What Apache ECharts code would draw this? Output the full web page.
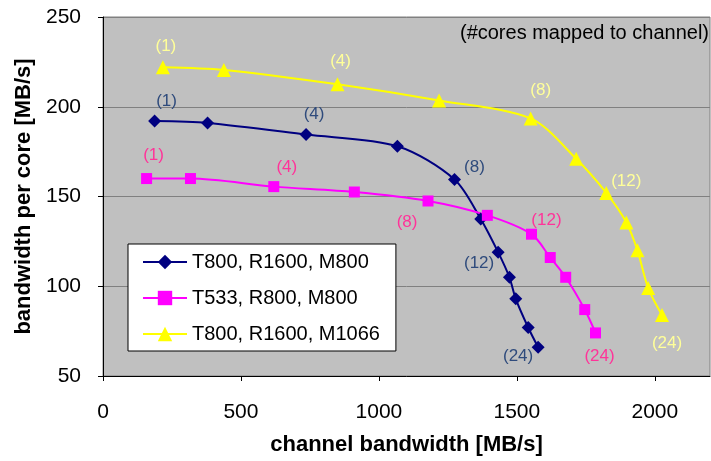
<!DOCTYPE html>
<html>
<head>
<meta charset="utf-8">
<script src="https://cdn.jsdelivr.net/npm/echarts@6/dist/echarts.min.js"></script>
<style>
html,body{margin:0;padding:0;background:#fff;}
#c{width:711px;height:461px;}
</style>
</head>
<body>
<div id="c"></div>
<script>
// ---- data ----
var seriesNames = ['T800, R1600, M800', 'T533, R800, M800', 'T800, R1600, M1066'];
var navyX = [187, 379, 736, 1067, 1274, 1369, 1432, 1473, 1496, 1541, 1577];
var navyY = [192, 191, 184.5, 178, 159.5, 137.5, 119, 105, 93, 77, 66];
var magX = [158, 317, 619, 911, 1178, 1393, 1553, 1621, 1677, 1746, 1785];
var magY = [160, 160, 155.5, 152.5, 147.5, 139.5, 129, 116, 105, 87, 74];
var yelX = [217, 438, 850, 1218, 1550, 1715, 1824, 1897, 1937, 1976, 2026];
var yelY = [222, 220.5, 212.5, 203.5, 193.5, 171, 152, 135.5, 120, 99, 84];
var coreLabels = ['(1)', '', '(4)', '', '(8)', '', '(12)', '', '', '', '(24)'];
var xTicks = [0, 500, 1000, 1500, 2000];
var yTicks = [50, 100, 150, 200, 250];
var noteText = '(#cores mapped to channel)';
var xTitle = 'channel bandwidth [MB/s]';
var yTitle = 'bandwidth per core [MB/s]';

// ---- styles (label offsets relative to points) ----
var FONT = "'Liberation Sans', Arial, Helvetica, sans-serif";
var labelOffsets = [
  {0: [12, -20], 2: [8, -20], 4: [20, -12], 6: [-19, 11], 10: [-20, 9]},
  {0: [7, -23], 2: [13, -19], 4: [-21, 21], 6: [15, -14], 10: [4, 23]},
  {0: [3, -21], 2: [3, -23], 4: [10, -28], 6: [20, -12], 10: [5, 28]}
];
var labelColors = ['#2f4b7c', '#ff3399', '#ffff99'];
var lineColors = ['#000080', '#ff00ff', '#ffff00'];
var symbols = ['diamond', 'rect', 'triangle'];
var symbolSizes = [13, 11, 14];

function buildData(xs, ys, k) {
  return xs.map(function (x, i) {
    var item = {value: [x, ys[i]]};
    if (coreLabels[i]) {
      item.label = {
        show: true,
        formatter: coreLabels[i],
        position: 'inside',
        offset: labelOffsets[k][i],
        color: labelColors[k],
        fontSize: 17,
        fontFamily: FONT,
        align: 'center',
        verticalAlign: 'middle'
      };
    }
    return item;
  });
}

var xsAll = [navyX, magX, yelX];
var ysAll = [navyY, magY, yelY];
var series = seriesNames.map(function (name, k) {
  return {
    name: name,
    type: 'line',
    smooth: 0.3,
    symbol: symbols[k],
    symbolSize: symbolSizes[k],
    showAllSymbol: true,
    lineStyle: {color: lineColors[k], width: 2},
    itemStyle: {color: lineColors[k]},
    label: {show: false},
    emphasis: {disabled: true},
    data: buildData(xsAll[k], ysAll[k], k)
  };
});

var chart = echarts.init(document.getElementById('c'), null, {renderer: 'canvas'});
chart.setOption({
  animation: false,
  textStyle: {fontFamily: FONT},
  grid: {
    left: 103, top: 17, right: 1, bottom: 85,
    show: true, backgroundColor: '#c0c0c0', borderColor: '#808080', borderWidth: 1,
    containLabel: false, outerBoundsMode: 'none'
  },
  legend: {
    orient: 'vertical',
    left: 128, top: 244,
    padding: [8, 16, 7, 14],
    itemWidth: 44, itemHeight: 18, itemGap: 16,
    backgroundColor: '#ffffff', borderColor: '#000000', borderWidth: 1,
    textStyle: {fontSize: 20, lineHeight: 18, color: '#000', fontFamily: FONT},
    data: seriesNames
  },
  xAxis: {
    type: 'value',
    min: xTicks[0], max: 2200, interval: xTicks[1] - xTicks[0],
    name: xTitle, nameLocation: 'middle', nameGap: 58,
    nameTextStyle: {fontSize: 22, fontWeight: 'bold', color: '#000', fontFamily: FONT},
    axisLine: {show: true, lineStyle: {color: '#000', width: 1}},
    axisTick: {show: true, inside: false, length: 5, lineStyle: {color: '#000'}},
    axisLabel: {fontSize: 21, color: '#000', margin: 26, showMaxLabel: false, fontFamily: FONT,
      formatter: function (v) { return String(v); }},
    splitLine: {show: false}
  },
  yAxis: {
    type: 'value',
    min: yTicks[0], max: yTicks[yTicks.length - 1], interval: yTicks[1] - yTicks[0],
    name: yTitle, nameLocation: 'middle', nameGap: 64,
    nameTextStyle: {fontSize: 22, fontWeight: 'bold', color: '#000', fontFamily: FONT},
    axisLine: {show: true, lineStyle: {color: '#000', width: 1}},
    axisTick: {show: true, inside: false, length: 5, lineStyle: {color: '#000'}},
    axisLabel: {fontSize: 21, color: '#000', margin: 22, fontFamily: FONT,
      formatter: function (v) { return String(v); }},
    splitLine: {show: true, lineStyle: {color: '#808080', width: 1}}
  },
  graphic: [{
    type: 'text',
    right: 2, top: 23,
    z: 100,
    style: {text: noteText, fontSize: 20, fontFamily: FONT, fill: '#000'}
  }],
  series: series
});
</script>
</body>
</html>
